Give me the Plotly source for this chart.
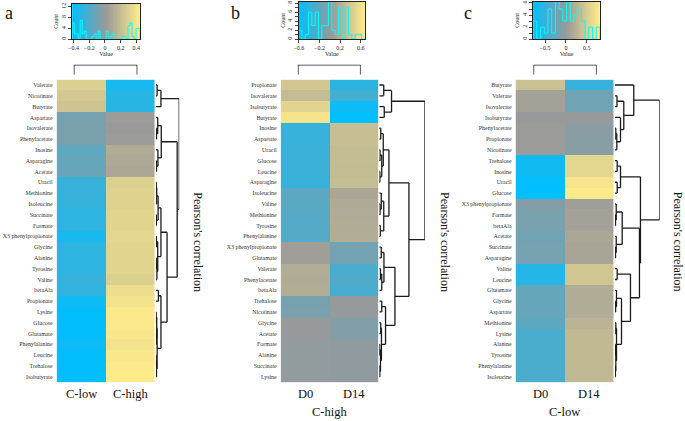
import numpy as np
import plotly.graph_objects as go

W, H = 685, 421
FONT = "Liberation Serif"

# ---------------- data ----------------
A_ROWS = ["Valerate", "Nicotinate", "Butyrate", "Aspartate", "Isovalerate", "Phenylacetate",
          "Inosine", "Asparagine", "Acetate", "Uracil", "Methionine", "Isoleucine", "Succinate",
          "Formate", "X3 phenylpropionate", "Glycine", "Alanine", "Tyrosine", "Valine", "betaAla",
          "Propionate", "Lysine", "Glucose", "Glutamate", "Phenylalanine", "Leucine", "Trehalose",
          "Isobutyrate"]
A_COLS = ["C-low", "C-high"]
A_LOW = [0.30, 0.26, 0.24, -0.08, -0.07, -0.07, -0.15, -0.13, -0.12, -0.26, -0.26, -0.27, -0.29,
         -0.29, -0.35, -0.29, -0.29, -0.29, -0.26, -0.28, -0.38, -0.41, -0.41, -0.41, -0.38,
         -0.41, -0.41, -0.41]
A_HIGH = [-0.35, -0.31, -0.30, 0.03, 0.02, 0.03, 0.11, 0.10, 0.09, 0.30, 0.31, 0.31, 0.32,
          0.32, 0.33, 0.32, 0.32, 0.32, 0.30, 0.37, 0.40, 0.43, 0.43, 0.42, 0.40, 0.42, 0.43, 0.44]

B_ROWS = ["Propionate", "Isovalerate", "Isobutyrate", "Butyrate", "Inosine", "Aspartate", "Uracil",
          "Glucose", "Leucine", "Asparagine", "Isoleucine", "Valine", "Methionine", "Tyrosine",
          "Phenylalanine", "X3 phenylpropionate", "Glutamate", "Valerate", "Phenylacetate",
          "betaAla", "Trehalose", "Nicotinate", "Glycine", "Acetate", "Formate", "Alanine",
          "Succinate", "Lysine"]
B_COLS = ["D0", "D14"]
B_D0 = [0.40, 0.30, 0.50, 0.62, -0.38, -0.38, -0.36, -0.36, -0.36, -0.37, -0.22, -0.23, -0.24,
        -0.25, -0.25, 0.08, 0.08, 0.20, 0.19, 0.20, -0.10, -0.09, 0.03, 0.03, 0.01, 0.01, 0.01, 0.01]
B_D14 = [-0.42, -0.33, -0.55, -0.60, 0.33, 0.33, 0.31, 0.31, 0.30, 0.32, 0.15, 0.17, 0.18, 0.19,
         0.20, -0.12, -0.12, -0.30, -0.27, -0.30, 0.03, 0.02, -0.06, -0.06, 0.0, 0.0, 0.0, 0.0]

C_ROWS = ["Butyrate", "Valerate", "Isovalerate", "Isobutyrate", "Phenylacetate", "Propionate",
          "Nicotinate", "Trehalose", "Inosine", "Uracil", "Glucose", "X3 phenylpropionate",
          "Formate", "betaAla", "Acetate", "Succinate", "Asparagine", "Valine", "Leucine",
          "Glutamate", "Glycine", "Aspartate", "Methionine", "Lysine", "Alanine", "Tyrosine",
          "Phenylalanine", "Isoleucine"]
C_COLS = ["D0", "D14"]
C_D0 = [0.40, 0.10, 0.10, 0.01, 0.03, 0.03, 0.03, -0.70, -0.70, -0.78, -0.79, -0.10, -0.15, -0.15,
        -0.20, -0.17, -0.17, -0.60, -0.60, -0.25, -0.25, -0.25, -0.30, -0.40, -0.40, -0.40, -0.40,
        -0.40]
C_D14 = [-0.50, -0.20, -0.20, 0.01, -0.06, -0.08, -0.08, 0.60, 0.60, 0.75, 0.80, 0.06, 0.10, 0.10,
         0.15, 0.13, 0.13, 0.45, 0.45, 0.20, 0.20, 0.20, 0.28, 0.32, 0.32, 0.32, 0.32, 0.32]

GROUPS = ["", "C-high", "C-low"]

# row dendrograms: leaf = row index, node = (left, right, height)
A_TREE = (((0, 1, 1.2), 2, 5),
          (((3, (4, 5, 0.6), 1.8), (6, (7, 8, 0.6), 2.0), 5.3),
           (((((9, 10, 0.4), 11, 0.8), (12, 13, 0.5), 2.2),
             ((14, 15, 0.5), ((16, 17, 0.4), 18, 1.0), 1.8), 5.0),
            ((19, 20, 2.5), (((21, 22, 0.3), (23, 24, 0.4), 0.8),
                             ((25, 26, 0.3), 27, 0.6), 1.2), 5.0), 11.0), 21.0), 23.0)
B_TREE = (((0, 1, 4.5), (2, 3, 5.0), 12.3),
          ((((4, 5, 1.5), ((6, 7, 0.8), (8, 9, 0.6), 2.5), 4.0),
            ((10, (11, 12, 0.8), 2.0), (13, 14, 1.0), 4.5), 9.7),
           (((15, 16, 2.0), ((17, 18, 1.2), 19, 2.5), 4.7),
            ((20, 21, 2.5), ((22, 23, 1.5), ((24, 25, 0.5), (26, 27, 0.6), 1.2), 2.2), 6.3),
            15.7), 29.7), 45.7)
C_TREE = ((0, ((1, 2, 2.0), (3, ((4, 5, 0.8), 6, 1.8), 5.5), 8.8), 18.8),
          (((7, 8, 2.2), (9, 10, 2.2), 5.5),
           (((11, (12, 13, 0.5), 1.2), (14, (15, 16, 0.5), 1.2), 7.2),
            ((17, 18, 2.2), ((19, (20, 21, 0.6), 1.5), ((22, 23, 0.8), ((24, 25, 0.4), (26, 27, 0.4), 0.8), 1.5), 6.5), 15.5),
            24.5), 25.5), 44.8)
COL_TREE = (0, 1, 1.0)

KEY_RANGES = [(-0.417, 0.447), (-0.607, 0.685), (-0.786, 0.817)]
KEY_XTICKS = [[-0.4, -0.2, 0, 0.2, 0.4], [-0.6, -0.2, 0.2, 0.6], [-0.5, 0, 0.5]]
KEY_YMAX = [13.1, 8.3, 6.2]
KEY_YTICKS = [[0, 4, 8, 12], list(range(0, 9)), list(range(0, 7))]
KEY_YLAB = [[0, 4, 8, 12], [0, 2, 4, 6, 8], [0, 2, 4, 6]]
KEY_XTITLE = ["Value", "Value", "Value"]
NBINS = [34, 20, 18]

COLORSCALE = [[0, "#00BFFF"], [0.5, "#999999"], [1, "#FFEC8B"]]

# ---------------- layout geometry (pixels) ----------------
HEAT_X = [(52, 151), (277.7, 376), (514.3, 613.3)]
HEAT_Y = (79, 383)
DEND_X = [(152, 175.5), (377, 423), (614.5, 659.5)]
COLD_X = [(69.3, 133.3), (295, 358.3), (532.3, 596)]
COLD_Y = (64, 74)
KEY_X = [(67.7, 136), (295.7, 362.7), (532, 599.3)]
KEY_Y = [(2.7, 38.3), (0.8, 38.3), (0.8, 38.3)]
LETTER_X = [4.5, 232.5, 466.5]
PEARSON_X = [195, 443, 678]


def xd(a, b):
    return [a / W, b / W]


def yd(top, bot):
    return [1 - bot / H, 1 - top / H]


def dendro(node):
    hs, ps = [], []

    def rec(n):
        if isinstance(n, int):
            return float(n), 0.0
        l, r, h = n
        pl, hl = rec(l)
        pr, hr = rec(r)
        for p, hh in ((pl, hl), (pr, hr)):
            hs.extend([hh, h, None])
            ps.extend([p, p, None])
        hs.extend([h, h, None])
        ps.extend([pl, pr, None])
        return (pl + pr) / 2, h

    rec(node)
    return hs, ps


def axkey(ax):
    return ax[0] + "axis" + ax[1:]


fig = go.Figure()
layout = {}
panels = [
    (A_ROWS, A_COLS, A_LOW, A_HIGH, A_TREE),
    (B_ROWS, B_COLS, B_D0, B_D14, B_TREE),
    (C_ROWS, C_COLS, C_D0, C_D14, C_TREE),
]
letters = ["a", "b", "c"]
annotations = []

for p, (rows, cols, v1, v2, tree) in enumerate(panels):
    zmin, zmax = KEY_RANGES[p]
    n = len(rows)
    ids = [4 * p + k for k in range(1, 5)]
    names = [("x" if i == 1 else f"x{i}", "y" if i == 1 else f"y{i}") for i in ids]

    # heatmap
    z = [[a, b] for a, b in zip(v1, v2)]
    fig.add_trace(go.Heatmap(z=z, x=[0, 1], y=list(range(n)), colorscale=COLORSCALE,
                             zmin=zmin, zmax=zmax, showscale=False, hoverinfo="skip",
                             xaxis=names[0][0], yaxis=names[0][1]))
    layout[axkey(names[0][0])] = dict(domain=xd(*HEAT_X[p]), anchor=names[0][1], range=[-0.5, 1.5],
                                      showticklabels=False, showgrid=False, zeroline=False, ticks="")
    layout[axkey(names[0][1])] = dict(domain=yd(*HEAT_Y), anchor=names[0][0], range=[n - 0.5, -0.5],
                                      tickvals=list(range(n)), ticktext=rows, showgrid=False,
                                      zeroline=False, ticks="", ticklabelstandoff=3,
                                      tickfont=dict(family=FONT, size=5.9, color="#333"))
    x0, x1 = HEAT_X[p]
    for j, c in enumerate(cols):
        cx = x0 + (x1 - x0) * (j + 0.5) / 2
        annotations.append(dict(text=c, x=cx / W, y=1 - 395 / H, xref="paper", yref="paper",
                                showarrow=False, xanchor="center", yanchor="middle",
                                font=dict(family=FONT, size=12.5, color="#111")))

    # row dendrogram
    hs, ps = dendro(tree)
    fig.add_trace(go.Scatter(x=hs, y=ps, mode="lines", line=dict(color="#1a1a1a", width=1.3),
                             hoverinfo="skip", showlegend=False, cliponaxis=False,
                             xaxis=names[1][0], yaxis=names[1][1]))
    layout[axkey(names[1][0])] = dict(domain=xd(*DEND_X[p]), anchor=names[1][1], range=[0, tree[2]],
                                      visible=False)
    layout[axkey(names[1][1])] = dict(domain=yd(*HEAT_Y), anchor=names[1][0], range=[n - 0.5, -0.5],
                                      visible=False)

    # column dendrogram
    hs, ps = dendro(COL_TREE)
    fig.add_trace(go.Scatter(x=ps, y=hs, mode="lines", line=dict(color="#2a2a2a", width=1.5),
                             hoverinfo="skip", showlegend=False, cliponaxis=False,
                             xaxis=names[2][0], yaxis=names[2][1]))
    layout[axkey(names[2][0])] = dict(domain=xd(*COLD_X[p]), anchor=names[2][1], range=[0, 1],
                                      visible=False)
    layout[axkey(names[2][1])] = dict(domain=yd(*COLD_Y), anchor=names[2][0], range=[0, 1],
                                      visible=False)

    # color key with histogram
    gx = np.linspace(zmin, zmax, 120)
    fig.add_trace(go.Heatmap(z=[gx, gx], x=gx, y=[0, KEY_YMAX[p]], colorscale=COLORSCALE, zmin=zmin,
                             zmax=zmax, showscale=False, hoverinfo="skip",
                             xaxis=names[3][0], yaxis=names[3][1]))
    allv = np.array(v1 + v2)
    counts, edges = np.histogram(allv, bins=np.linspace(zmin, zmax, NBINS[p] + 1))
    sx, sy = [edges[0]], [0]
    for i, c in enumerate(counts):
        sx += [edges[i], edges[i + 1]]
        sy += [c, c]
    sx.append(edges[-1])
    sy.append(0)
    fig.add_trace(go.Scatter(x=sx, y=sy, mode="lines", line=dict(color="#00FFFF", width=1),
                             hoverinfo="skip", showlegend=False, cliponaxis=True,
                             xaxis=names[3][0], yaxis=names[3][1]))
    tf = dict(family=FONT, size=6, color="#222")
    layout[axkey(names[3][0])] = dict(domain=xd(*KEY_X[p]), anchor=names[3][1], range=[zmin, zmax],
                                      tickvals=KEY_XTICKS[p], ticks="outside", ticklen=3,
                                      showline=True, linecolor="#222", linewidth=1, mirror=True,
                                      showgrid=False, zeroline=False, tickfont=tf,
                                      title=dict(text=KEY_XTITLE[p], font=tf, standoff=1))
    ylabs = [str(t) if t in KEY_YLAB[p] else "" for t in KEY_YTICKS[p]]
    layout[axkey(names[3][1])] = dict(domain=yd(*KEY_Y[p]), anchor=names[3][0],
                                      range=[0, KEY_YMAX[p]], tickvals=KEY_YTICKS[p], ticktext=ylabs,
                                      ticks="outside", ticklen=3, tickangle=-90,
                                      showline=True, linecolor="#222", linewidth=1, mirror=True,
                                      showgrid=False, zeroline=False, tickfont=tf,
                                      title=dict(text="Count", font=tf, standoff=1))

    annotations.append(dict(text=letters[p], x=LETTER_X[p] / W, y=1 - 12 / H, xref="paper",
                            yref="paper", showarrow=False, xanchor="center", yanchor="middle",
                            font=dict(family=FONT, size=18, color="#111")))
    annotations.append(dict(text="Pearson's correlation", x=PEARSON_X[p] / W, y=1 - 242 / H,
                            xref="paper", yref="paper", showarrow=False, textangle=90,
                            xanchor="center", yanchor="middle",
                            font=dict(family=FONT, size=12, color="#111")))
    if GROUPS[p]:
        cx = (HEAT_X[p][0] + HEAT_X[p][1]) / 2
        annotations.append(dict(text=GROUPS[p], x=cx / W, y=1 - 413 / H, xref="paper", yref="paper",
                                showarrow=False, xanchor="center", yanchor="middle",
                                font=dict(family=FONT, size=12.5, color="#111")))

fig.update_layout(width=W, height=H, margin=dict(l=0, r=0, t=0, b=0), paper_bgcolor="white",
                  plot_bgcolor="white", showlegend=False, annotations=annotations, **layout)
fig.write_html("out.html", config={"displayModeBar": False},
               post_script="document.body.style.margin='0';document.body.style.padding='0';")
